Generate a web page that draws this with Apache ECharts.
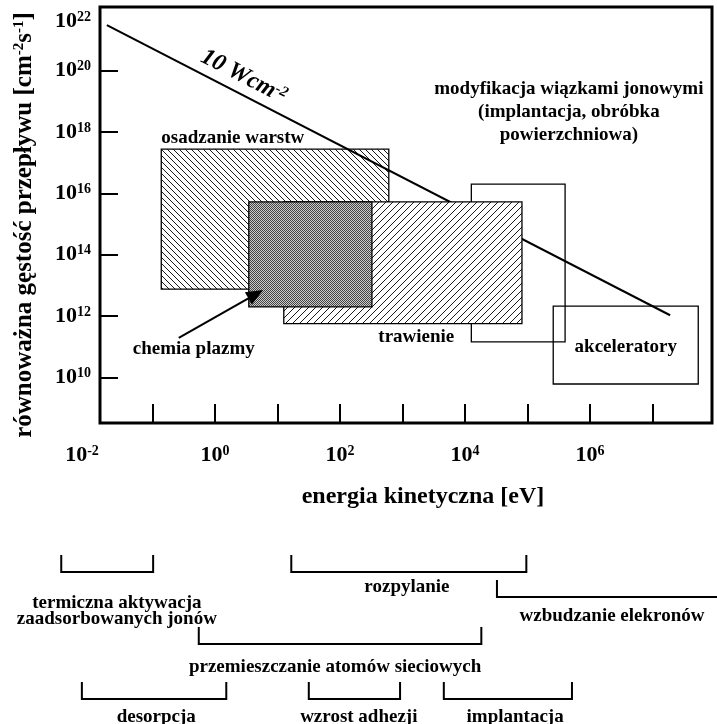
<!DOCTYPE html>
<html>
<head>
<meta charset="utf-8">
<script src="https://cdn.jsdelivr.net/npm/echarts@6/dist/echarts.min.js"></script>
<style>
  html, body { margin: 0; padding: 0; background: #fff; }
  #chart { width: 717px; height: 724px; }
</style>
</head>
<body>
<div id="chart"></div>
<script>
// wszystkie wartości w skali log10: energia [eV], strumień [cm^-2 s^-1]
const xTickExps = [-1, 0, 1, 2, 3, 4, 5, 6, 7];
const xLabelExps = [-2, 0, 2, 4, 6];
const yTickExps = [10, 12, 14, 16, 18, 20];
const yLabelExps = [10, 12, 14, 16, 18, 20, 22];

// obszary zastosowań (kolejność = kolejność rysowania)
const regionNames = ["osadzanie warstw", "modyfikacja", "trawienie", "chemia plazmy", "akceleratory"];
const regionLogE = [[-0.86, 2.78], [4.10, 5.60], [1.10, 4.91], [0.54, 2.51], [5.41, 7.73]];
const regionLogFlux = [[12.88, 17.44], [11.16, 16.30], [11.76, 15.72], [12.30, 15.72], [9.79, 12.33]];

// linia stałej mocy 10 W/cm2
const powerLogE = [-1.73, 7.28];
const powerLogFlux = [21.48, 12.03];

// procesy pod osią energii (zakresy log10 E)
const processNames = [
  "termiczna aktywacja\nzaadsorbowanych jonów",
  "rozpylanie",
  "wzbudzanie elekronów",
  "przemieszczanie atomów sieciowych",
  "desorpcja",
  "wzrost adhezji",
  "implantacja",
];
const processFrom = [-2.46, 1.22, 4.51, -0.26, -2.13, 1.50, 3.66];
const processTo = [-0.99, 4.98, 8.40, 4.26, 0.18, 2.96, 5.71];

// ---- układ / style ----
const SERIF = '"Liberation Serif", "DejaVu Serif", serif';
const X_MIN = -2, X_MAX = 7.95, Y_MIN = 8.52, Y_MAX = 22.07;
const FRAME_LEFT = -1.84;

const regionFill = { "osadzanie warstw": "back", "trawienie": "fwd", "chemia plazmy": "dots" };
// rzędy nawiasów (px od góry dolnej siatki) i położenie opisów
const processRow = [32, 32, 57, 104, 159, 159, 159];
const processLabelX = [-1.57, 3.07, 6.35, 1.92, -0.94, 2.30, 4.80];
const processLabelRow = [71, 47, 76, 127, 177, 177, 177];

// opisy w polu wykresu
const noteTexts = ["osadzanie warstw", "trawienie", "chemia plazmy", "akceleratory",
  "modyfikacja wiązkami jonowymi\n(implantacja, obróbka\npowierzchniowa)"];
const noteLogE = [-0.86, 3.22, -0.34, 6.57, 5.66];
const noteLogFlux = [17.80, 11.32, 10.93, 10.99, 18.65];
const noteAlign = ["left", "center", "center", "center", "center"];
const arrowFrom = [-0.58, 11.29];
const arrowTo = [0.77, 12.85];

function makeHatch(size, dir) {
  const c = document.createElement("canvas");
  c.width = c.height = size;
  const ctx = c.getContext("2d");
  ctx.fillStyle = "#fff";
  ctx.fillRect(0, 0, size, size);
  ctx.strokeStyle = "#000";
  ctx.lineWidth = 0.9;
  ctx.beginPath();
  if (dir === "back") {
    ctx.moveTo(0, 0); ctx.lineTo(size, size);
    ctx.moveTo(-size, 0); ctx.lineTo(0, size);
    ctx.moveTo(0, -size); ctx.lineTo(size * 2, size);
  } else {
    ctx.moveTo(0, size); ctx.lineTo(size, 0);
    ctx.moveTo(-size, size); ctx.lineTo(0, 0);
    ctx.moveTo(0, size * 2); ctx.lineTo(size * 2, 0);
  }
  ctx.stroke();
  return { image: c, repeat: "repeat" };
}

function makeDots() {
  const c = document.createElement("canvas");
  c.width = c.height = 2;
  const ctx = c.getContext("2d");
  ctx.fillStyle = "#cacaca"; ctx.fillRect(0, 0, 2, 2);
  ctx.fillStyle = "#444"; ctx.fillRect(0, 0, 1, 1); ctx.fillRect(1, 1, 1, 1);
  return { image: c, repeat: "repeat" };
}

const fills = { back: makeHatch(6, "back"), fwd: makeHatch(7, "fwd"), dots: makeDots() };

const tickFont = { fontFamily: SERIF, fontWeight: "bold", color: "#000" };
const powRich = {
  b: { ...tickFont, fontSize: 22 },
  s: { ...tickFont, fontSize: 14, verticalAlign: "top" },
  sn: { ...tickFont, fontSize: 14, verticalAlign: "top", padding: [0, 16, 0, 0] },
  g: { fontSize: 10, lineHeight: 24 },
};
const xPowLabel = (v) => "{b|10}{" + (v < 0 ? "sn" : "s") + "|" + v + "}";
// najwyższa etykieta osi Y jest w oryginale zsunięta pod ramkę
const yPowLabel = (v) => (v >= 22 ? "{g|}\n" : "") + "{b|10}{s|" + v + "}";

function regionData(list) {
  return list.map((i) => [regionLogE[i][0], regionLogE[i][1], regionLogFlux[i][0], regionLogFlux[i][1], i]);
}

function renderRegion(params, api) {
  const name = regionNames[api.value(4)];
  const p0 = api.coord([api.value(0), api.value(3)]);
  const p1 = api.coord([api.value(1), api.value(2)]);
  const kind = regionFill[name];
  return {
    type: "rect",
    shape: { x: p0[0], y: p0[1], width: p1[0] - p0[0], height: p1[1] - p0[1] },
    style: { fill: kind ? fills[kind] : "none", stroke: "#000", lineWidth: 1.3 },
  };
}

function renderNote(params, api) {
  const i = api.value(2);
  const p = api.coord([api.value(0), api.value(1)]);
  return {
    type: "text",
    x: p[0],
    y: p[1],
    style: {
      text: noteTexts[i],
      fontFamily: SERIF,
      fontWeight: "bold",
      fontSize: 19,
      lineHeight: 23,
      fill: "#000",
      align: noteAlign[i],
      verticalAlign: "middle",
    },
  };
}

function renderExtras(params, api) {
  const a = api.coord(arrowFrom);
  const b = api.coord(arrowTo);
  const ang = Math.atan2(b[1] - a[1], b[0] - a[0]);
  const len = 17, half = 7;
  const bx = b[0] - len * Math.cos(ang), by = b[1] - len * Math.sin(ang);
  const head = [
    b,
    [bx + half * Math.sin(ang), by - half * Math.cos(ang)],
    [bx - half * Math.sin(ang), by + half * Math.cos(ang)],
  ];
  const w0 = api.coord([powerLogE[0], powerLogFlux[0]]);
  const w1 = api.coord([powerLogE[1], powerLogFlux[1]]);
  const rot = Math.atan2(w1[1] - w0[1], w1[0] - w0[0]);
  const t = api.coord([0.46, 19.80]);
  const topRight = api.coord([X_MAX, Y_MAX]);
  const botLeft = api.coord([FRAME_LEFT, Y_MIN]);
  return {
    type: "group",
    children: [
      { type: "line", shape: { x1: a[0], y1: a[1], x2: bx, y2: by }, style: { stroke: "#000", lineWidth: 2 } },
      { type: "polygon", shape: { points: head }, style: { fill: "#000" } },
      {
        type: "text",
        x: t[0],
        y: t[1],
        rotation: -rot,
        style: {
          text: "{a|10 Wcm}{s|-2}",
          align: "center",
          verticalAlign: "middle",
          rich: {
            a: { fontFamily: SERIF, fontWeight: "bold", fontStyle: "italic", fontSize: 24, color: "#000" },
            s: { fontFamily: SERIF, fontWeight: "bold", fontStyle: "italic", fontSize: 15, color: "#000", verticalAlign: "top" },
          },
        },
      },
      {
        type: "rect",
        shape: { x: botLeft[0], y: topRight[1], width: topRight[0] - botLeft[0], height: botLeft[1] - topRight[1] },
        style: { fill: "none", stroke: "#000", lineWidth: 3 },
      },
    ],
  };
}

function renderProcess(params, api) {
  const i = api.value(2);
  const x1 = api.coord([api.value(0), processRow[i]]);
  const x2 = api.coord([api.value(1), processRow[i]]);
  const top = api.coord([0, processRow[i] - 17])[1];
  const lab = api.coord([processLabelX[i], processLabelRow[i]]);
  return {
    type: "group",
    children: [
      {
        type: "polyline",
        shape: { points: [[x1[0], top], x1, x2, [x2[0], top]] },
        style: { stroke: "#000", lineWidth: 2, fill: "none" },
      },
      {
        type: "text",
        x: lab[0],
        y: lab[1],
        style: {
          text: processNames[i],
          fontFamily: SERIF,
          fontWeight: "bold",
          fontSize: 19,
          lineHeight: 16,
          fill: "#000",
          align: "center",
          verticalAlign: "middle",
        },
      },
    ],
  };
}

const chart = echarts.init(document.getElementById("chart"), null, { renderer: "canvas" });

chart.setOption({
  animation: false,
  backgroundColor: "#fff",
  grid: [
    { left: 90, right: 5, top: 7, bottom: 301, outerBoundsMode: "none", containLabel: false },
    { left: 90, right: 5, top: 540, bottom: 0, outerBoundsMode: "none", containLabel: false },
  ],
  xAxis: [
    {
      type: "value",
      gridIndex: 0,
      min: X_MIN,
      max: X_MAX,
      axisLine: { show: false, onZero: false },
      splitLine: { show: false },
      axisTick: { show: true, inside: true, length: 19, customValues: xTickExps, lineStyle: { color: "#000", width: 2 } },
      axisLabel: { customValues: xLabelExps, margin: 21, formatter: xPowLabel, rich: powRich },
      name: "energia kinetyczna [eV]",
      nameLocation: "middle",
      nameGap: 62,
      nameTextStyle: { fontFamily: SERIF, fontWeight: "bold", fontSize: 24, color: "#000", padding: [0, 0, 0, 44] },
    },
    { type: "value", gridIndex: 1, min: X_MIN, max: X_MAX, show: false },
  ],
  yAxis: [
    {
      type: "value",
      gridIndex: 0,
      min: Y_MIN,
      max: Y_MAX,
      offset: -10,
      axisLine: { show: false, onZero: false },
      splitLine: { show: false },
      axisTick: { show: true, inside: true, length: 18, customValues: yTickExps, lineStyle: { color: "#000", width: 2 } },
      axisLabel: { customValues: yLabelExps, margin: 9, formatter: yPowLabel, rich: powRich },
      name: "{t|równoważna gęstość przepływu [cm}{s|-2}{t|s}{s|-1}{t|]}",
      nameLocation: "middle",
      nameGap: 63,
      nameTextStyle: {
        padding: [0, 20, 0, 0],
        rich: {
          t: { fontFamily: SERIF, fontWeight: "bold", fontSize: 25, color: "#000" },
          s: { fontFamily: SERIF, fontWeight: "bold", fontSize: 15, color: "#000", verticalAlign: "top" },
        },
      },
    },
    { type: "value", gridIndex: 1, min: 0, max: 184, inverse: true, show: false },
  ],
  series: [
    {
      type: "custom",
      name: "tło",
      z: 1,
      silent: true,
      renderItem: renderRegion,
      data: regionData([0]),
    },
    {
      type: "line",
      name: "10 Wcm-2",
      z: 2,
      silent: true,
      symbol: "none",
      lineStyle: { color: "#000", width: 2 },
      data: powerLogE.map((e, i) => [e, powerLogFlux[i]]),
    },
    {
      type: "custom",
      name: "obszary",
      z: 3,
      silent: true,
      renderItem: renderRegion,
      data: regionData([1, 2, 3, 4]),
    },
    {
      type: "custom",
      name: "opisy",
      z: 4,
      silent: true,
      renderItem: renderNote,
      data: noteTexts.map((_t, i) => [noteLogE[i], noteLogFlux[i], i]),
    },
    {
      type: "custom",
      name: "dodatki",
      z: 5,
      silent: true,
      renderItem: renderExtras,
      data: [[0, 0]],
    },
    {
      type: "custom",
      name: "procesy",
      xAxisIndex: 1,
      yAxisIndex: 1,
      silent: true,
      renderItem: renderProcess,
      data: processNames.map((_n, i) => [processFrom[i], processTo[i], i]),
    },
  ],
});
</script>
</body>
</html>
